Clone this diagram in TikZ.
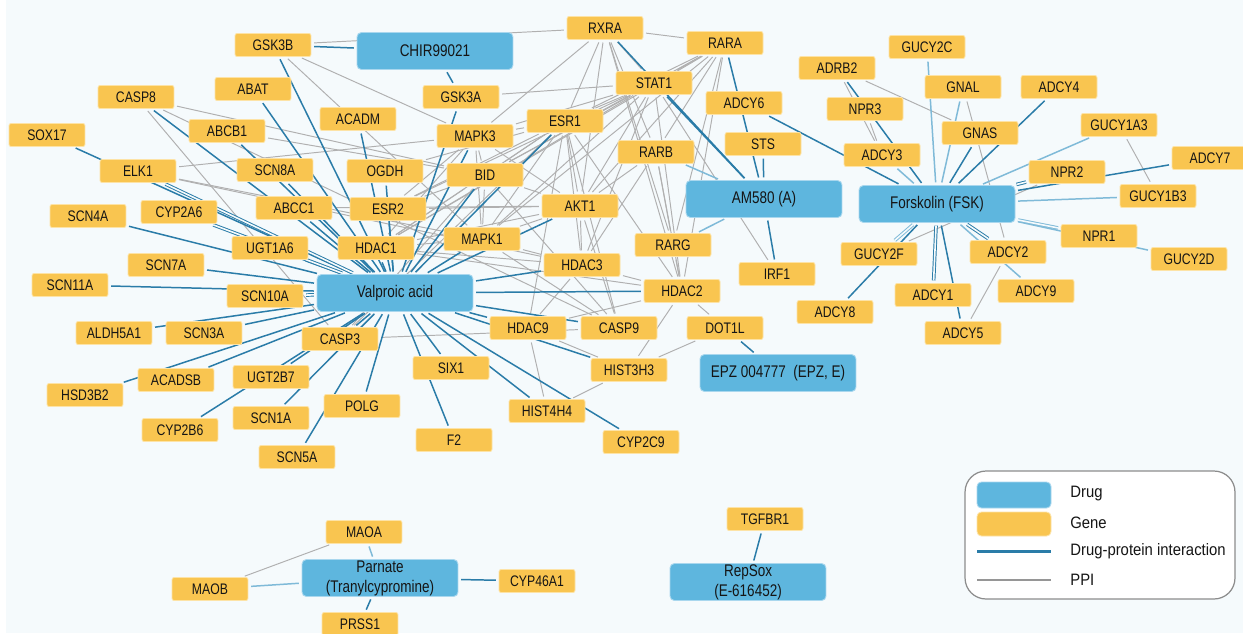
\documentclass[tikz,border=0pt]{standalone}
\usepackage{fontspec}
\newfontfamily\cond[FakeStretch=0.8]{Liberation Sans}
\newfontfamily\legf[FakeStretch=0.9]{Liberation Sans}
\definecolor{bgC}{HTML}{F5FAFC}
\definecolor{geneC}{HTML}{F9C550}
\definecolor{geneB}{HTML}{FDE3A6}
\definecolor{drugC}{HTML}{5EB6DE}
\definecolor{drugB}{HTML}{A9D7EE}
\definecolor{blueE}{HTML}{2A7CA8}
\definecolor{lblueE}{HTML}{7FBAD8}
\definecolor{grayE}{HTML}{B0B0B0}
\definecolor{txtC}{HTML}{151515}
\definecolor{legB}{HTML}{8C8C8C}
\pgfdeclarelayer{back}
\pgfdeclarelayer{edges}
\pgfsetlayers{back,edges,main}
\begin{document}
\begin{tikzpicture}[x=0.02cm, y=-0.02cm,
  gene/.style={rectangle, rounded corners=1.2pt, fill=geneC, draw=geneB, line width=0.5pt,
    minimum width=1.52cm, minimum height=0.46cm, inner sep=0pt, text=txtC,
    font=\cond\fontsize{8.7}{10}\selectfont},
  drug/.style={rectangle, rounded corners=2.5pt, fill=drugC, draw=drugB, line width=0.5pt,
    minimum width=3.12cm, minimum height=0.74cm, inner sep=0pt, text=txtC, align=center,
    font=\cond\fontsize{9.6}{11.4}\selectfont},
  dpi/.style={draw=blueE, line width=0.85pt, shorten <=1.5pt, shorten >=1.5pt},
  dpil/.style={dpi, draw=lblueE},
  dbl/.style={double=bgC, double distance=0.9pt, line width=0.55pt},
  ppi/.style={draw=grayE, line width=0.55pt, shorten <=1.5pt, shorten >=1.5pt},
  legtext/.style={anchor=west, inner sep=0pt, text=txtC, font=\legf\fontsize{9.4}{11}\selectfont}
]
\useasboundingbox (0,0) rectangle (1243,633);
\begin{pgfonlayer}{back}
  \fill[white] (0,0) rectangle (1243,633);
  \fill[bgC] (6,0) rectangle (1243,633);
\end{pgfonlayer}

% drugs
\node[drug] (chir) at (435,51) {CHIR99021};
\node[drug] (am580) at (764,199) {AM580 (A)};
\node[drug] (fsk) at (937,204) {Forskolin (FSK)};
\node[drug] (vpa) at (395,293) {Valproic acid};
\node[drug] (epz) at (778,373) {EPZ 004777~ (EPZ, E)};
\node[drug] (parnate) at (380,578) {Parnate\\(Tranylcypromine)};
\node[drug] (repsox) at (748,582) {RepSox\\(E-616452)};

% genes
\node[gene] (gsk3b) at (273,45) {GSK3B};
\node[gene] (rxra) at (605,28) {RXRA};
\node[gene] (rara) at (725,43) {RARA};
\node[gene] (gucy2c) at (927,47) {GUCY2C};
\node[gene] (adrb2) at (837,68) {ADRB2};
\node[gene] (gnal) at (963,87) {GNAL};
\node[gene] (adcy4) at (1059,87) {ADCY4};
\node[gene] (abat) at (253,89) {ABAT};
\node[gene] (casp8) at (136,97) {CASP8};
\node[gene] (gsk3a) at (461,97) {GSK3A};
\node[gene] (stat1) at (654,83) {STAT1};
\node[gene] (adcy6) at (744,103) {ADCY6};
\node[gene] (npr3) at (865,109) {NPR3};
\node[gene] (acadm) at (358,119) {ACADM};
\node[gene] (abcb1) at (227,131) {ABCB1};
\node[gene] (mapk3) at (475,136) {MAPK3};
\node[gene] (esr1) at (565,121) {ESR1};
\node[gene] (gnas) at (980,133) {GNAS};
\node[gene] (gucy1a3) at (1119,125) {GUCY1A3};
\node[gene] (sox17) at (47,135) {SOX17};
\node[gene] (sts) at (763,144) {STS};
\node[gene] (rarb) at (656,152) {RARB};
\node[gene] (adcy3) at (882,155) {ADCY3};
\node[gene] (elk1) at (138,171) {ELK1};
\node[gene] (scn8a) at (275,170) {SCN8A};
\node[gene] (ogdh) at (385,171) {OGDH};
\node[gene] (bid) at (485,175) {BID};
\node[gene] (adcy7) at (1210,158) {ADCY7};
\node[gene] (npr2) at (1067,172) {NPR2};
\node[gene] (gucy1b3) at (1158,196) {GUCY1B3};
\node[gene] (abcc1) at (294,208) {ABCC1};
\node[gene] (esr2) at (388,209) {ESR2};
\node[gene] (cyp2a6) at (179,212) {CYP2A6};
\node[gene] (scn4a) at (88,216) {SCN4A};
\node[gene] (akt1) at (580,206) {AKT1};
\node[gene] (ugt1a6) at (270,248) {UGT1A6};
\node[gene] (hdac1) at (376,248) {HDAC1};
\node[gene] (mapk1) at (482,239) {MAPK1};
\node[gene] (rarg) at (673,245) {RARG};
\node[gene] (irf1) at (777,274) {IRF1};
\node[gene] (gucy2f) at (879,254) {GUCY2F};
\node[gene] (adcy2) at (1008,252) {ADCY2};
\node[gene] (npr1) at (1099,236) {NPR1};
\node[gene] (gucy2d) at (1189,259) {GUCY2D};
\node[gene] (scn7a) at (166,265) {SCN7A};
\node[gene] (scn11a) at (70,285) {SCN11A};
\node[gene] (scn10a) at (265,296) {SCN10A};
\node[gene] (hdac3) at (582,265) {HDAC3};
\node[gene] (hdac2) at (682,291) {HDAC2};
\node[gene] (adcy1) at (933,295) {ADCY1};
\node[gene] (adcy9) at (1036,291) {ADCY9};
\node[gene] (adcy8) at (835,312) {ADCY8};
\node[gene] (aldh5a1) at (114,333) {ALDH5A1};
\node[gene] (scn3a) at (204,333) {SCN3A};
\node[gene] (casp3) at (340,339) {CASP3};
\node[gene] (hdac9) at (528,328) {HDAC9};
\node[gene] (casp9) at (619,328) {CASP9};
\node[gene] (dot1l) at (725,328) {DOT1L};
\node[gene] (adcy5) at (963,333) {ADCY5};
\node[gene] (acadsb) at (176,380) {ACADSB};
\node[gene] (hsd3b2) at (85,395) {HSD3B2};
\node[gene] (ugt2b7) at (271,377) {UGT2B7};
\node[gene] (six1) at (451,368) {SIX1};
\node[gene] (hist3h3) at (629,370) {HIST3H3};
\node[gene] (polg) at (362,406) {POLG};
\node[gene] (scn1a) at (271,418) {SCN1A};
\node[gene] (cyp2b6) at (180,430) {CYP2B6};
\node[gene] (hist4h4) at (547,411) {HIST4H4};
\node[gene] (cyp2c9) at (641,442) {CYP2C9};
\node[gene] (f2) at (454,440) {F2};
\node[gene] (scn5a) at (297,457) {SCN5A};
\node[gene] (maoa) at (364,532) {MAOA};
\node[gene] (maob) at (210,589) {MAOB};
\node[gene] (cyp46a1) at (537,581) {CYP46A1};
\node[gene] (prss1) at (360,624) {PRSS1};
\node[gene] (tgfbr1) at (765,519) {TGFBR1};

\begin{pgfonlayer}{edges}
% protein-protein interactions
\foreach \a/\b in {gsk3b/rxra, gsk3b/mapk3, gsk3b/mapk1,
  casp8/bid, casp8/casp3, casp8/casp9, abcb1/bid, elk1/mapk3, elk1/mapk1, elk1/hdac3, abcc1/akt1,
  rxra/rara, rxra/stat1, rxra/esr1, rxra/mapk3, rxra/akt1, rxra/rarb, rxra/rarg, rxra/hdac2,
  rara/stat1, rara/esr1, rara/bid, rara/akt1, rara/rarb, rara/rarg, rara/hdac2, rara/mapk1, rara/hdac1,
  stat1/gsk3a, stat1/esr1, stat1/mapk3, stat1/bid, stat1/mapk1, stat1/akt1, stat1/hdac1, stat1/hdac3,
  stat1/hdac2, stat1/irf1, stat1/esr2,
  esr1/mapk3, esr1/bid, esr1/akt1, esr1/mapk1, esr1/hdac1, esr1/esr2, esr1/hdac3, esr1/hdac2,
  esr1/casp9, esr1/hdac9, esr1/ogdh, esr1/casp3,
  mapk3/esr2, mapk3/hdac1, mapk3/mapk1, mapk3/bid, mapk3/akt1,
  bid/casp3, bid/casp9, bid/akt1, bid/mapk1, bid/esr2, bid/hdac1,
  akt1/hdac3, akt1/mapk1, akt1/casp9, akt1/hdac1, akt1/esr2,
  mapk1/hdac3, mapk1/casp9, mapk1/hdac1,
  hdac3/hdac2, hdac3/hdac9, hdac3/hdac1, hdac3/rarb,
  hdac2/hdac1, hdac2/rarg, hdac2/rarb, hdac2/hist3h3, hdac2/dot1l, hdac2/hdac9,
  rarb/rarg, rarb/akt1, dot1l/hist3h3, hist3h3/hist4h4, hdac9/hist3h3, hdac9/hist4h4, casp3/casp9,
  adrb2/gnas, adrb2/adcy3, npr3/adcy3, gnal/adcy2, gucy1a3/gucy1b3, npr2/gucy2f, adcy2/adcy5,
  maoa/maob}
  \draw[ppi] (\a) -- (\b);
% drug-protein interactions
\foreach \b in {gsk3b, gsk3a} \draw[dpi] (chir) -- (\b);
\foreach \b in {gsk3b, abat, casp8, sox17, abcb1, scn8a, acadm, ogdh, esr2, abcc1,
  scn4a, ugt1a6, hdac1, mapk3, bid, esr1, gsk3a, mapk1, akt1, hdac3, hdac2, casp9, hdac9, hist3h3,
  hist4h4, cyp2c9, six1, f2, polg, scn5a, scn1a, casp3, ugt2b7, cyp2b6, acadsb, hsd3b2, scn3a,
  aldh5a1, scn11a, scn7a}
  \draw[dpi] (vpa) -- (\b);
\foreach \b in {scn10a, elk1, cyp2a6} \draw[dpi, dbl] (vpa) -- (\b);
\foreach \b in {adrb2, adcy6, gnas, adcy4, adcy7, adcy5, adcy8}
  \draw[dpi] (fsk) -- (\b);
\foreach \b in {gucy2c, gnal, gucy1a3, gucy1b3, gucy2d, adcy9, adcy3}
  \draw[dpil] (fsk) -- (\b);
\foreach \b in {adcy1, adcy2, npr2} \draw[dpi, dbl] (fsk) -- (\b);
\foreach \b in {npr1, gucy2f} \draw[dpil, dbl] (fsk) -- (\b);
\foreach \b in {rxra, stat1, rara, sts, irf1} \draw[dpi] (am580) -- (\b);
\foreach \b in {rarb, rarg} \draw[dpil] (am580) -- (\b);
\draw[dpi] (epz) -- (dot1l);
\foreach \b in {cyp46a1, prss1} \draw[dpi] (parnate) -- (\b);
\foreach \b in {maoa, maob} \draw[dpil] (parnate) -- (\b);
\draw[dpi] (repsox) -- (tgfbr1);
\end{pgfonlayer}

% legend
\node[draw=legB, line width=0.7pt, rounded corners=0.42cm, fill=white,
  minimum width=5.4cm, minimum height=2.56cm, inner sep=0pt] (legend) at (1100,535) {};
\node[drug, minimum width=1.48cm, minimum height=0.52cm] (lgdrug) at (1014,495) {};
\node[gene, minimum width=1.48cm, minimum height=0.48cm, rounded corners=2.5pt] (lggene) at (1014,524) {};
\coordinate (lgb1) at (977,551);
\coordinate (lgb2) at (1051,551);
\coordinate (lgg1) at (977,580);
\coordinate (lgg2) at (1051,580);
\draw[draw=blueE, line width=1.7pt] (lgb1) -- (lgb2);
\draw[draw=grayE!85!black, line width=1pt] (lgg1) -- (lgg2);
\node[legtext] (lgt1) at (1070,494) {Drug};
\node[legtext] (lgt2) at (1070,523) {Gene};
\node[legtext] (lgt3) at (1070,551) {Drug-protein interaction};
\node[legtext] (lgt4) at (1070,580) {PPI};
\end{tikzpicture}
\end{document}
